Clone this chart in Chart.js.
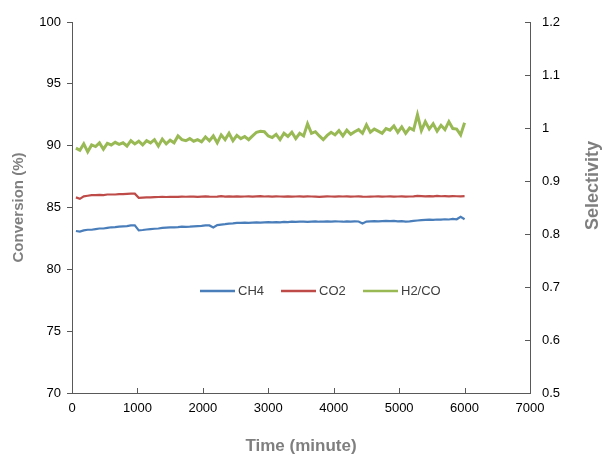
<!DOCTYPE html>
<html>
<head>
<meta charset="utf-8">
<script src="https://cdn.jsdelivr.net/npm/chart.js@4.4.1/dist/chart.umd.min.js"></script>
<style>
    html, body { margin: 0; padding: 0; background: #fff; }
    #wrap { width: 604px; height: 459px; }
</style>
</head>
<body>
<div id="wrap"><canvas id="conversionChart" width="604" height="459"></canvas></div>
<script>
const timeMin = [
    60, 120, 180, 240, 300, 360, 420, 480, 540, 600,
    660, 720, 780, 840, 900, 960, 1020, 1080, 1140, 1200,
    1260, 1320, 1380, 1440, 1500, 1560, 1620, 1680, 1740, 1800,
    1860, 1920, 1980, 2040, 2100, 2160, 2220, 2280, 2340, 2400,
    2460, 2520, 2580, 2640, 2700, 2760, 2820, 2880, 2940, 3000,
    3060, 3120, 3180, 3240, 3300, 3360, 3420, 3480, 3540, 3600,
    3660, 3720, 3780, 3840, 3900, 3960, 4020, 4080, 4140, 4200,
    4260, 4320, 4380, 4440, 4500, 4560, 4620, 4680, 4740, 4800,
    4860, 4920, 4980, 5040, 5100, 5160, 5220, 5280, 5340, 5400,
    5460, 5520, 5580, 5640, 5700, 5760, 5820, 5880, 5940, 6000
];

const ch4 = [
    83.10, 83.05, 83.15, 83.20, 83.20, 83.25, 83.30, 83.30, 83.35, 83.40,
    83.42, 83.45, 83.48, 83.50, 83.55, 83.55, 83.15, 83.18, 83.22, 83.25,
    83.28, 83.30, 83.35, 83.38, 83.40, 83.40, 83.42, 83.45, 83.43, 83.45,
    83.48, 83.50, 83.52, 83.55, 83.55, 83.38, 83.58, 83.62, 83.65, 83.70,
    83.72, 83.75, 83.75, 83.78, 83.76, 83.78, 83.80, 83.78, 83.80, 83.82,
    83.80, 83.82, 83.80, 83.84, 83.82, 83.85, 83.83, 83.85, 83.86, 83.84,
    83.86, 83.88, 83.85, 83.86, 83.88, 83.86, 83.88, 83.87, 83.85, 83.88,
    83.86, 83.88, 83.87, 83.70, 83.86, 83.88, 83.90, 83.88, 83.90, 83.92,
    83.90, 83.92, 83.88, 83.90, 83.86, 83.88, 83.92, 83.95, 83.98, 84.00,
    84.02, 84.00, 84.03, 84.02, 84.05, 84.03, 84.08, 84.05, 84.25, 84.05
];

const co2 = [
    85.82, 85.70, 85.90, 85.95, 86.00, 86.00, 86.02, 86.00, 86.05, 86.05,
    86.05, 86.08, 86.08, 86.10, 86.12, 86.12, 85.78, 85.80, 85.82, 85.82,
    85.84, 85.85, 85.86, 85.85, 85.86, 85.87, 85.86, 85.88, 85.87, 85.88,
    85.88, 85.86, 85.88, 85.90, 85.88, 85.87, 85.88, 85.92, 85.88, 85.90,
    85.88, 85.90, 85.88, 85.89, 85.90, 85.88, 85.90, 85.92, 85.89, 85.90,
    85.88, 85.90, 85.89, 85.88, 85.90, 85.88, 85.89, 85.90, 85.88, 85.90,
    85.89, 85.88, 85.86, 85.88, 85.90, 85.89, 85.88, 85.90, 85.89, 85.90,
    85.88, 85.89, 85.90, 85.88, 85.87, 85.88, 85.89, 85.90, 85.88, 85.89,
    85.90, 85.88, 85.89, 85.90, 85.88, 85.89, 85.90, 85.94, 85.92, 85.90,
    85.92, 85.90, 85.94, 85.91, 85.92, 85.90, 85.92, 85.91, 85.90, 85.92
];

const h2co = [
    0.962, 0.958, 0.970, 0.955, 0.968, 0.965, 0.972, 0.960, 0.971, 0.968,
    0.973, 0.969, 0.972, 0.966, 0.976, 0.970, 0.975, 0.968, 0.976, 0.972,
    0.978, 0.966, 0.979, 0.970, 0.977, 0.972, 0.985, 0.978, 0.976, 0.980,
    0.975, 0.978, 0.974, 0.983, 0.976, 0.985, 0.972, 0.987, 0.978, 0.990,
    0.976, 0.986, 0.980, 0.984, 0.978, 0.985, 0.992, 0.994, 0.993, 0.985,
    0.982, 0.988, 0.978, 0.990, 0.984, 0.992, 0.980, 0.990, 0.985, 1.008,
    0.990, 0.993, 0.985, 0.978, 0.986, 0.992, 0.987, 0.995, 0.985, 0.996,
    0.988, 0.993, 0.997, 0.990, 1.006, 0.992, 0.998, 0.994, 0.990, 0.999,
    0.996, 1.004, 0.992, 1.002, 0.990, 1.000, 0.996, 1.025, 0.995, 1.012,
    0.998, 1.008, 0.994, 1.005, 0.997, 1.012, 0.999, 0.998, 0.987, 1.010
];

const seriesNames = ['CH4', 'CO2', 'H2/CO'];
const seriesColors = ['#4A7EBB', '#BE4B48', '#98B954'];

const axisColor = '#595959';
const titleColor = '#7F7F7F';
const tickFont = { family: 'Liberation Sans, Arial, sans-serif', size: 13 };

const toPoints = (arr) => arr.map((v, i) => ({ x: timeMin[i], y: v }));

// legend, inward ticks and right title, drawn by hand like the excel original
const extras = {
    id: 'extras',
    afterDraw(chart) {
        const ctx = chart.ctx;
        const area = chart.chartArea;
        const xs = chart.scales.x;
        const y1 = chart.scales.y1;
        ctx.save();
        ctx.strokeStyle = axisColor;
        ctx.lineWidth = 1;
        xs.ticks.forEach(t => {
            const px = Math.round(xs.getPixelForValue(t.value)) + 0.5;
            ctx.beginPath();
            ctx.moveTo(px, area.bottom);
            ctx.lineTo(px, area.bottom - 5);
            ctx.stroke();
        });
        y1.ticks.forEach(t => {
            const py = Math.round(y1.getPixelForValue(t.value)) + 0.5;
            ctx.beginPath();
            ctx.moveTo(area.right, py);
            ctx.lineTo(area.right - 5, py);
            ctx.stroke();
        });

        // right axis title reads bottom to top
        ctx.save();
        ctx.translate(593, (area.top + area.bottom) / 2 - 22);
        ctx.rotate(-Math.PI / 2);
        ctx.font = 'bold 18px Liberation Sans, Arial, sans-serif';
        ctx.fillStyle = titleColor;
        ctx.textAlign = 'center';
        ctx.textBaseline = 'middle';
        ctx.fillText('Selectivity', 0, 0);
        ctx.restore();

        // legend inside plot
        const ly = area.top + 269;
        const starts = [area.left + 128, area.left + 209, area.left + 291];
        ctx.font = '13px Liberation Sans, Arial, sans-serif';
        ctx.textBaseline = 'middle';
        ctx.fillStyle = '#404040';
        seriesNames.forEach((name, i) => {
            ctx.strokeStyle = seriesColors[i];
            ctx.lineWidth = 2.5;
            ctx.beginPath();
            ctx.moveTo(starts[i], ly);
            ctx.lineTo(starts[i] + 35, ly);
            ctx.stroke();
            ctx.fillText(name, starts[i] + 38, ly);
        });
        ctx.restore();
    }
};

const ctx = document.getElementById('conversionChart').getContext('2d');
new Chart(ctx, {
    type: 'line',
    data: {
        datasets: [{
            label: seriesNames[0],
            data: toPoints(ch4),
            borderColor: seriesColors[0],
            borderWidth: 2.2,
            pointRadius: 0,
            yAxisID: 'y'
        }, {
            label: seriesNames[1],
            data: toPoints(co2),
            borderColor: seriesColors[1],
            borderWidth: 2.2,
            pointRadius: 0,
            yAxisID: 'y'
        }, {
            label: seriesNames[2],
            data: toPoints(h2co),
            borderColor: seriesColors[2],
            borderWidth: 3,
            pointRadius: 0,
            yAxisID: 'y1'
        }]
    },
    options: {
        responsive: false,
        animation: false,
        layout: {
            padding: { top: 22, left: 0, right: 0, bottom: 0 }
        },
        scales: {
            x: {
                type: 'linear',
                min: 0,
                max: 7000,
                ticks: {
                    stepSize: 1000,
                    color: '#000',
                    font: tickFont,
                    padding: 8,
                    maxRotation: 0,
                    callback: (v) => String(v)
                },
                grid: {
                    drawOnChartArea: false,
                    drawTicks: false
                },
                border: { color: axisColor, width: 1 },
                title: {
                    display: true,
                    text: 'Time (minute)',
                    color: titleColor,
                    font: { family: 'Liberation Sans Narrow, Arial Narrow, Liberation Sans, sans-serif', size: 17, weight: 'bold' },
                    padding: { top: 0, bottom: 2 }
                },
                afterFit: (scale) => { scale.height = 66; }
            },
            y: {
                position: 'left',
                min: 70,
                max: 100,
                ticks: {
                    stepSize: 5,
                    color: '#000',
                    font: tickFont,
                    padding: 6
                },
                grid: {
                    drawOnChartArea: false,
                    tickLength: 5,
                    color: axisColor
                },
                border: { color: axisColor, width: 1 },
                title: {
                    display: true,
                    text: 'Conversion (%)',
                    color: titleColor,
                    font: { family: 'Liberation Sans, Arial, sans-serif', size: 15, weight: 'bold' },
                    padding: { top: 10, bottom: 0 }
                },
                afterFit: (scale) => { scale.width = 72; }
            },
            y1: {
                position: 'right',
                min: 0.5,
                max: 1.2,
                ticks: {
                    stepSize: 0.1,
                    color: '#000',
                    font: tickFont,
                    padding: 12,
                    callback: (v) => Number(v.toFixed(1)).toString()
                },
                grid: {
                    drawOnChartArea: false,
                    drawTicks: false
                },
                border: { color: axisColor, width: 1 },
                title: { display: false },
                afterFit: (scale) => { scale.width = 74; }
            }
        },
        plugins: {
            legend: { display: false },
            tooltip: { enabled: false }
        }
    },
    plugins: [extras]
});
</script>
</body>
</html>
